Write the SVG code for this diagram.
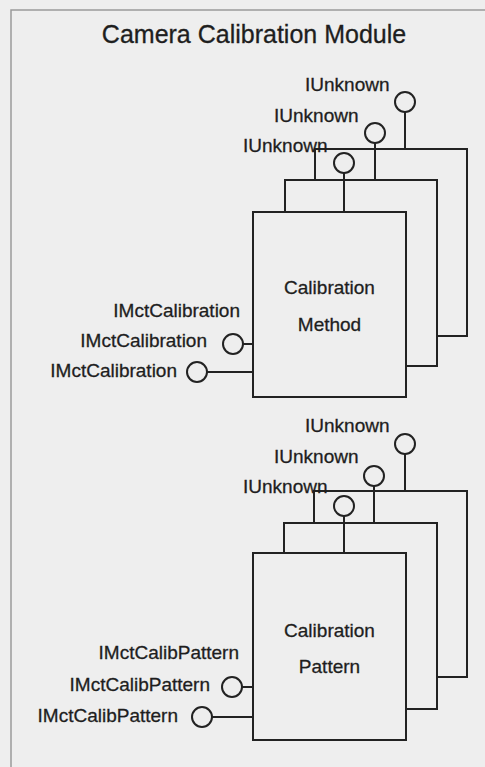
<svg xmlns="http://www.w3.org/2000/svg" width="485" height="767" viewBox="0 0 485 767">
<style>
.bg{fill:#eeeeee}
.frame{fill:none;stroke:#9a9a9a;stroke-width:1.5}
.box{fill:#eeeeee;stroke:#222;stroke-width:2}
.ln{fill:none;stroke:#222;stroke-width:2}
.lol{fill:#eeeeee;stroke:#222;stroke-width:2}
text{font-family:"Liberation Sans",Arial,sans-serif;font-size:19px;fill:#1e1e1e;stroke:#1e1e1e;stroke-width:0.3}
.title{font-size:25px}
.c{text-anchor:middle}
.e{text-anchor:end}
</style>
<rect class="bg" x="0" y="0" width="485" height="767"/>
<rect class="frame" x="11" y="10" width="490" height="780"/>
<text class="title c" x="254" y="43">Camera Calibration Module</text>

<g id="method-back"><rect class="box" x="315" y="149" width="152" height="187"/></g>
<g id="method-middle"><rect class="box" x="285" y="180" width="152" height="186"/></g>
<g id="method-front"><rect class="box" x="253" y="212" width="153" height="185"/>
<text class="c" x="329.5" y="294">Calibration</text>
<text class="c" x="329.5" y="331">Method</text></g>

<g id="pattern-back"><rect class="box" x="314" y="491" width="153" height="186"/></g>
<g id="pattern-middle"><rect class="box" x="284" y="523" width="153" height="186"/></g>
<g id="pattern-front"><rect class="box" x="253" y="553" width="153" height="187"/>
<text class="c" x="329.5" y="637">Calibration</text>
<text class="c" x="329.5" y="673">Pattern</text></g>

<g id="connectors">
<line class="ln" x1="405" y1="112" x2="405" y2="149"/>
<circle class="lol" cx="405" cy="102" r="10"/>
<line class="ln" x1="375" y1="143" x2="375" y2="180"/>
<circle class="lol" cx="375" cy="133" r="10"/>
<line class="ln" x1="344" y1="173" x2="344" y2="212"/>
<circle class="lol" cx="344" cy="163" r="10"/>
<line class="ln" x1="243" y1="344" x2="253" y2="344"/>
<circle class="lol" cx="233" cy="344" r="10"/>
<line class="ln" x1="207" y1="372" x2="253" y2="372"/>
<circle class="lol" cx="197" cy="372" r="10"/>

<line class="ln" x1="405" y1="454" x2="405" y2="491"/>
<circle class="lol" cx="405" cy="444" r="10"/>
<line class="ln" x1="374" y1="486" x2="374" y2="523"/>
<circle class="lol" cx="374" cy="476" r="10"/>
<line class="ln" x1="344" y1="516" x2="344" y2="553"/>
<circle class="lol" cx="344" cy="506" r="10"/>
<line class="ln" x1="242" y1="687" x2="253" y2="687"/>
<circle class="lol" cx="232" cy="687" r="10"/>
<line class="ln" x1="212" y1="717" x2="253" y2="717"/>
<circle class="lol" cx="202" cy="717" r="10"/>
</g>

<g id="labels">
<text x="305" y="91">IUnknown</text>
<text x="274" y="122">IUnknown</text>
<text x="243" y="152">IUnknown</text>
<text class="e" x="240" y="317">IMctCalibration</text>
<text class="e" x="207" y="347">IMctCalibration</text>
<text class="e" x="177" y="377">IMctCalibration</text>

<text x="305" y="432">IUnknown</text>
<text x="274" y="463">IUnknown</text>
<text x="243" y="493">IUnknown</text>
<text class="e" x="239" y="659">IMctCalibPattern</text>
<text class="e" x="210" y="691">IMctCalibPattern</text>
<text class="e" x="178" y="722">IMctCalibPattern</text>
</g>
</svg>
